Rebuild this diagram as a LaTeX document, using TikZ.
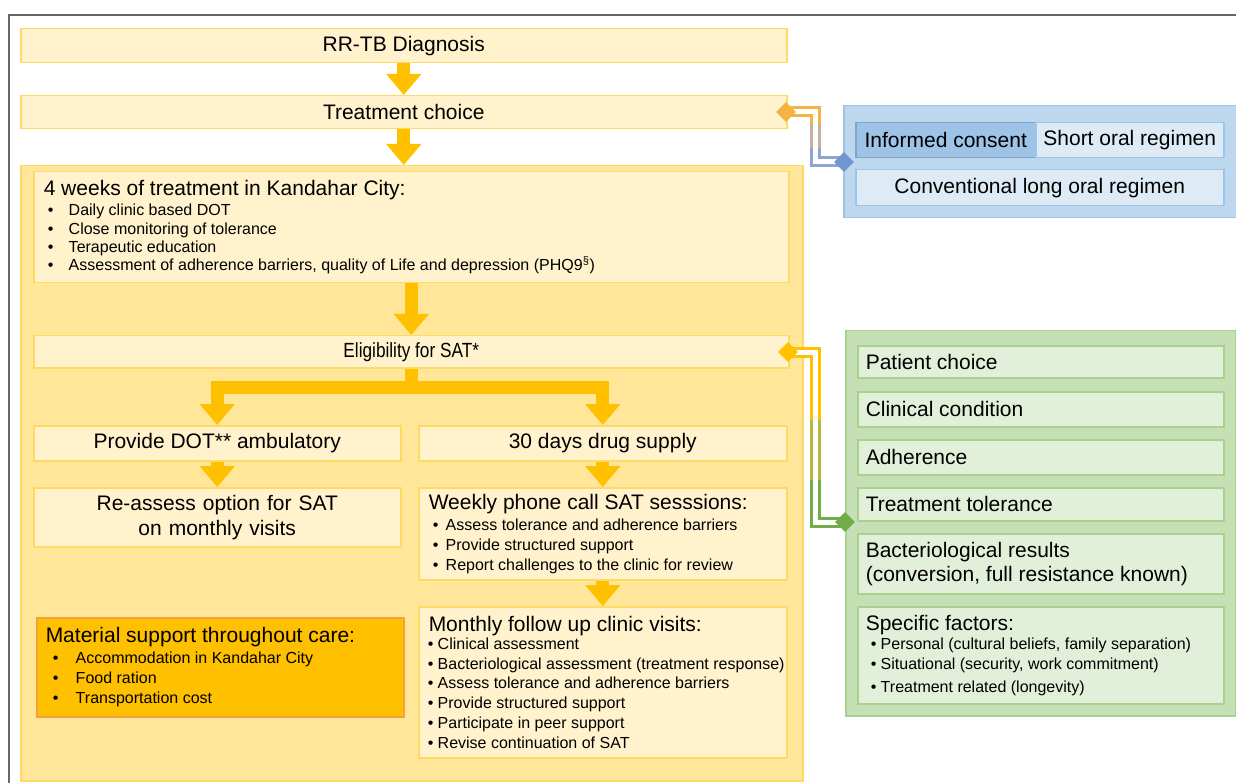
\documentclass[tikz,border=0pt]{standalone}
\usepackage{fontspec}
\setmainfont{Liberation Sans}
\newfontfamily\narrowfont[FakeStretch=0.84]{Liberation Sans}
\usepackage{xcolor}
\usetikzlibrary{arrows.meta,shapes.geometric}

\definecolor{boxfill}{HTML}{FFF2CC}
\definecolor{boxline}{HTML}{FFD966}
\definecolor{areafill}{HTML}{FFE699}
\definecolor{arrowcol}{HTML}{FFC000}
\definecolor{matline}{HTML}{F2A23A}
\definecolor{bluefill}{HTML}{BDD7EE}
\definecolor{blueline}{HTML}{9DC3E6}
\definecolor{bluemid}{HTML}{9DC3E6}
\definecolor{bluelight}{HTML}{DEEBF7}
\definecolor{greenfill}{HTML}{C5E0B4}
\definecolor{greenline}{HTML}{A9D18E}
\definecolor{greenlight}{HTML}{E2F0D9}
\definecolor{greendia}{HTML}{70AD47}
\definecolor{bluedia}{HTML}{7096CF}
\definecolor{linkorange}{HTML}{F3B443}
\definecolor{linktan}{HTML}{C8AE9E}
\definecolor{linkblue}{HTML}{8FA4D2}
\definecolor{linkolive}{HTML}{B8B83A}
\definecolor{framecol}{HTML}{666666}

\newcommand\bigtxt{\fontsize{21}{25}\selectfont}
\newcommand\bitem[2]{\hspace*{#1}\makebox[#2][l]{\textbullet}}

\begin{document}
\begin{tikzpicture}[x=1pt,y=-1pt]
                \tikzstyle{every node}+=[inner sep=0pt, font=\bigtxt]
                \tikzstyle{lightbox}=[draw=boxline, fill=boxfill, line width=1.5pt, anchor=north west]
                \tikzstyle{listbox}=[lightbox, inner xsep=10pt, align=flush left]
                \tikzstyle{greenbox}=[draw=greenline, fill=greenlight, line width=1.5pt, anchor=north west,
                    minimum width=366pt, text width=350pt, inner xsep=8pt, align=flush left]
                \tikzstyle{bluebox}=[draw=blueline, fill=bluelight, line width=1.5pt, anchor=north west]
                \tikzstyle{bigarrow}=[draw=arrowcol, line width=13pt, -{Triangle[width=34pt,length=21pt]}]
                \tikzstyle{link}=[line width=3pt, double=white, double distance=5pt]
                \tikzstyle{joint}=[diamond, minimum width=20pt, minimum height=20pt]
                \useasboundingbox (0,0) rectangle (1236,783);
                \draw [framecol, line width=1.5pt] (9,783) |- (1236,15);
                % left column: yellow flow
                \node [lightbox, fill=areafill, minimum width=782pt, minimum height=615pt] (area) at (20,165) {};
                \node [lightbox, minimum width=766pt, minimum height=34pt] (diag) at (20,28) {RR-TB Diagnosis};
                \node [lightbox, minimum width=766pt, minimum height=33pt] (choice) at (20,95) {Treatment choice};
                \node [listbox, minimum width=755pt, text width=735pt, minimum height=111pt, font=\fontsize{16}{18.3}\selectfont] (weeks) at (33,171)
                    {{\bigtxt 4 weeks of treatment in Kandahar City:}\\[1.7pt]
                     \bitem{4pt}{21pt}Daily clinic based DOT\\
                     \bitem{4pt}{21pt}Close monitoring of tolerance\\
                     \bitem{4pt}{21pt}Terapeutic education\\
                     \bitem{4pt}{21pt}Assessment of adherence barriers, quality of Life and depression (PHQ9\smash{\textsuperscript{\S}})};
                \node [lightbox, minimum width=755pt, minimum height=32pt, font=\narrowfont\fontsize{20.5}{24}\selectfont] (elig) at (33,335) {Eligibility for SAT*};
                \node [lightbox, minimum width=367pt, minimum height=35pt] (dot) at (33,425) {Provide DOT** ambulatory};
                \node [lightbox, minimum width=368pt, minimum height=35pt] (supply) at (418,425) {30 days drug supply};
                \node [lightbox, minimum width=367pt, minimum height=59pt, text width=367pt, align=center] (reassess) at (33,487)
                    {Re-assess option for SAT\\on monthly visits};
                \node [listbox, minimum width=368pt, text width=348pt, minimum height=92pt, font=\fontsize{16}{20}\selectfont] (phone) at (418,487)
                    {{\bigtxt Weekly phone call SAT sesssions:}\\[1pt]
                     \bitem{4pt}{13pt}Assess tolerance and adherence barriers\\
                     \bitem{4pt}{13pt}Provide structured support\\
                     \bitem{4pt}{13pt}Report challenges to the clinic for review};
                \node [listbox, minimum width=368pt, text width=348pt, minimum height=151pt, font=\fontsize{16}{19.8}\selectfont] (monthly) at (418,606)
                    {{\bigtxt Monthly follow up clinic visits:}\\[-1.8pt]
                     \bitem{-1pt}{10pt}Clinical assessment\\
                     \bitem{-1pt}{10pt}\mbox{Bacteriological assessment (treatment response)}\\
                     \bitem{-1pt}{10pt}Assess tolerance and adherence barriers\\
                     \bitem{-1pt}{10pt}Provide structured support\\
                     \bitem{-1pt}{10pt}Participate in peer support\\
                     \bitem{-1pt}{10pt}Revise continuation of SAT};
                \node [listbox, draw=matline, fill=arrowcol, inner xsep=9pt, minimum width=367pt, text width=349pt, minimum height=99pt, font=\fontsize{16}{20}\selectfont] (material) at (36,617)
                    {{\bigtxt Material support throughout care:}\\[1pt]
                     \bitem{7pt}{23pt}Accommodation in Kandahar City\\
                     \bitem{7pt}{23pt}Food ration\\
                     \bitem{7pt}{23pt}Transportation cost};
                % arrows
                \draw [bigarrow] (diag.south) -- (choice.north);
                \draw [bigarrow] (choice.south) -- (choice.south |- area.north);
                \draw [bigarrow] (weeks.south) -- (elig.north);
                \draw [bigarrow] (elig.south) -- ++(0,19) -| (dot.north);
                \draw [bigarrow] (elig.south) -- ++(0,19) -| (supply.north);
                \draw [bigarrow] (dot.south) -- (reassess.north);
                \draw [bigarrow] (supply.south) -- (phone.north);
                \draw [bigarrow] (phone.south) -- (monthly.north);
                % regimen options
                \node [bluebox, fill=bluefill, minimum width=400pt, minimum height=112pt] (regimens) at (843,105) {};
                \node [bluebox, fill=bluemid, draw=blueline!85!black, minimum width=180pt, minimum height=35pt] (consent) at (855,122) {Informed consent};
                \node [bluebox, minimum width=188pt, minimum height=35pt] (shortreg) at (1035,122) {Short oral regimen};
                \node [bluebox, minimum width=368pt, minimum height=36pt] (longreg) at (855,169) {Conventional long oral regimen};
                % eligibility criteria
                \node [lightbox, draw=greenline, fill=greenfill, minimum width=390pt, minimum height=385pt] (criteria) at (845,330) {};
                \node [greenbox, minimum height=32pt] (pchoice) at (857,345) {Patient choice};
                \node [greenbox, minimum height=35pt] (clinical) at (857,391) {Clinical condition};
                \node [greenbox, minimum height=35pt] (adherence) at (857,439) {Adherence};
                \node [greenbox, minimum height=33pt] (tolerance) at (857,487) {Treatment tolerance};
                \node [greenbox, minimum height=60pt, font=\fontsize{21}{24}\selectfont] (bacterio) at (857,533)
                    {Bacteriological results\\(conversion, full resistance known)};
                \node [greenbox, minimum height=97pt, font=\fontsize{16}{20}\selectfont] (specific) at (857,606)
                    {{\bigtxt Specific factors:}\\[-1pt]
                     \bitem{5pt}{10pt}Personal (cultural beliefs, family separation)\\
                     \bitem{5pt}{10pt}Situational (security, work commitment)\\[3pt]
                     \bitem{5pt}{10pt}Treatment related (longevity)};
                % links
                \coordinate (cchoice) at (786,112);
                \coordinate (cblue) at (844,162);
                \coordinate (bluebendA) at (815,124);
                \coordinate (bluebendB) at (815,148);
                \draw [link, draw=linkblue] (cchoice) -| (bluebendB) |- (cblue);
                \draw [link, draw=linktan] (cchoice) -| (bluebendB);
                \draw [link, draw=linkorange] (cchoice) -| (bluebendA);
                \coordinate (celig) at (788,352);
                \coordinate (cgreen) at (845,522);
                \coordinate (greenbendA) at (815,420);
                \coordinate (greenbendB) at (815,480);
                \draw [link, draw=greendia] (celig) -| (greenbendB) |- (cgreen);
                \draw [link, draw=linkolive] (celig) -| (greenbendB);
                \draw [link, draw=arrowcol] (celig) -| (greenbendA);
                \node [joint, fill=linkorange] (dchoice) at (cchoice) {};
                \node [joint, fill=bluedia] (dblue) at (cblue) {};
                \node [joint, fill=arrowcol] (delig) at (celig) {};
                \node [joint, fill=greendia] (dgreen) at (cgreen) {};
\end{tikzpicture}
\end{document}
